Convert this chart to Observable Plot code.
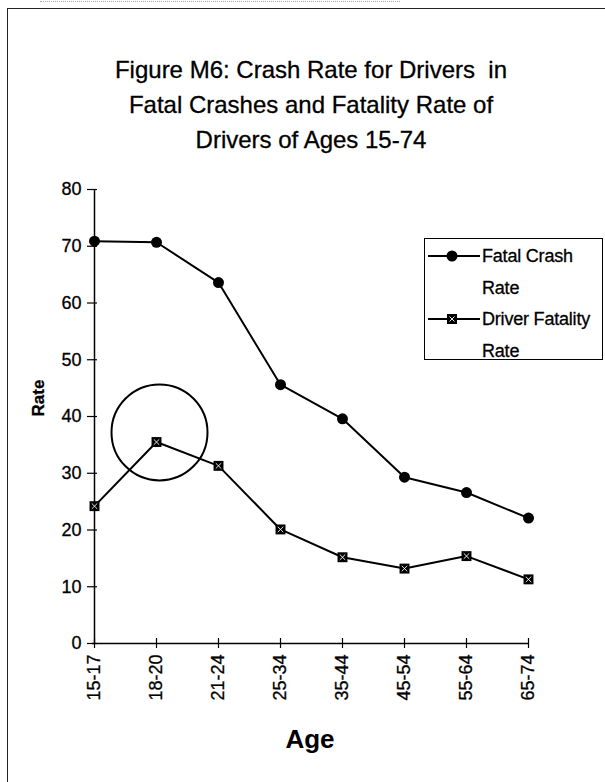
<!DOCTYPE html>
<html><head><meta charset="utf-8">
<script src="https://cdn.jsdelivr.net/npm/d3@7"></script>
<script src="https://cdn.jsdelivr.net/npm/@observablehq/plot@0.6"></script>
<style>
body{margin:0;background:#fff;font-family:"Liberation Sans",Arial,sans-serif;color:#000;}
#page{position:relative;width:605px;height:782px;overflow:hidden;background:#fff;}
#frame{position:absolute;left:7px;top:8px;width:640px;height:800px;border-left:1px solid #222;border-top:1px solid #222;}
#scanline{position:absolute;left:40px;top:1px;width:360px;border-top:1px dotted #aaa;}
#title{position:absolute;left:0;width:622px;top:52px;text-align:center;font-size:24px;line-height:35px;white-space:pre;-webkit-text-stroke:0.3px #000;}
#chart{position:absolute;left:0;top:160px;}
#chart svg text{stroke:#000;stroke-width:0.3px;}
#xlabel{position:absolute;left:0;width:620px;top:724px;text-align:center;font-size:26px;font-weight:bold;}
#legend{position:absolute;left:424px;top:238px;width:177px;height:120px;border:1px solid #000;background:#fff;}
.entry{position:absolute;left:0;width:177px;}
.entry svg{position:absolute;left:3px;top:6px;}
.entry div{position:absolute;left:57px;top:0;font-size:18px;line-height:32px;white-space:pre;letter-spacing:-0.2px;-webkit-text-stroke:0.3px #000;}
</style></head>
<body>
<div id="page">
  <div id="scanline"></div>
  <div id="frame"></div>
  <div id="title"></div>
  <div id="chart"></div>
  <div id="legend"></div>
  <div id="xlabel"></div>
</div>
<script>
const titleLines = ["Figure M6: Crash Rate for Drivers  in", "Fatal Crashes and Fatality Rate of", "Drivers of Ages 15-74"];
const ages = ["15-17","18-20","21-24","25-34","35-44","45-54","55-64","65-74"];
const fatalCrashRate = [70.9, 70.7, 63.6, 45.6, 39.6, 29.3, 26.6, 22.1];
const driverFatalityRate = [24.2, 35.5, 31.3, 20.1, 15.2, 13.2, 15.4, 11.3];
const yTicks = [0, 10, 20, 30, 40, 50, 60, 70, 80];
const seriesNames = ["Fatal Crash\nRate", "Driver Fatality\nRate"];
const yLabel = "Rate";
const xLabel = "Age";
const highlight = [{age: "18-20", rate: 37.2}];

document.getElementById("title").textContent = titleLines.join("\n");
document.getElementById("xlabel").textContent = xLabel;

const crash = ages.map((a, i) => ({age: a, rate: fatalCrashRate[i]}));
const fatal = ages.map((a, i) => ({age: a, rate: driverFatalityRate[i]}));

const chart = Plot.plot({
  width: 605, height: 550,
  marginLeft: 92, marginRight: 76, marginTop: 29, marginBottom: 67,
  style: {fontFamily: '"Liberation Sans", Arial, sans-serif', fontSize: "18px", color: "#000", background: "transparent", overflow: "visible"},
  x: {type: "point", domain: ages, padding: 0},
  y: {domain: [0, 80]},
  marks: [
    Plot.axisY({ticks: yTicks, tickSize: 5, tickPadding: 6, label: null, fontSize: 18, strokeWidth: 1.2}),
    Plot.axisY({ticks: yTicks, tickSize: 5, dx: 5, tickFormat: () => "", label: null, strokeWidth: 1.2}),
    Plot.axisX({tickSize: 5, tickRotate: -90, tickPadding: 6, label: null, fontSize: 18, strokeWidth: 1.2}),
    Plot.axisX({tickSize: 5, dy: -5, tickFormat: () => "", label: null, strokeWidth: 1.2}),
    Plot.ruleY([0], {stroke: "#000", strokeWidth: 1.5}),
    Plot.ruleX([ages[0]], {stroke: "#000", strokeWidth: 1.5}),
    Plot.line(crash, {x: "age", y: "rate", stroke: "#000", strokeWidth: 2}),
    Plot.line(fatal, {x: "age", y: "rate", stroke: "#000", strokeWidth: 2}),
    Plot.dot(crash, {x: "age", y: "rate", r: 5.5, fill: "#000", symbol: "circle"}),
    Plot.dot(fatal, {x: "age", y: "rate", r: 5.6, fill: "#000", symbol: "square"}),
    Plot.dot(fatal, {x: "age", y: "rate", r: 2.6, stroke: "#fff", strokeWidth: 0.9, symbol: "times"}),
    Plot.dot(highlight, {x: "age", y: "rate", r: 48, dx: 3, fill: "none", stroke: "#000", strokeWidth: 2}),
    Plot.text([yLabel], {frameAnchor: "left", rotate: -90, dx: -54, dy: 0, fontWeight: "bold", fontSize: 17})
  ]
});
document.getElementById("chart").appendChild(chart);

// legend
const legend = document.getElementById("legend");
const tops = [1, 64];
seriesNames.forEach((name, i) => {
  const e = document.createElement("div");
  e.className = "entry";
  e.style.top = tops[i] + "px";
  const marker = i === 0
    ? '<circle cx="24" cy="10" r="5.5" fill="#000"/>'
    : '<rect x="19" y="5" width="10" height="10" fill="#000"/><path d="M21.5 7.5L26.5 12.5M26.5 7.5L21.5 12.5" stroke="#fff" stroke-width="0.9"/>';
  e.innerHTML = '<svg width="52" height="20"><line x1="0" y1="10" x2="52" y2="10" stroke="#000" stroke-width="2"/>' + marker + '</svg>';
  const t = document.createElement("div");
  t.textContent = name;
  e.appendChild(t);
  legend.appendChild(e);
});
</script>
</body></html>
